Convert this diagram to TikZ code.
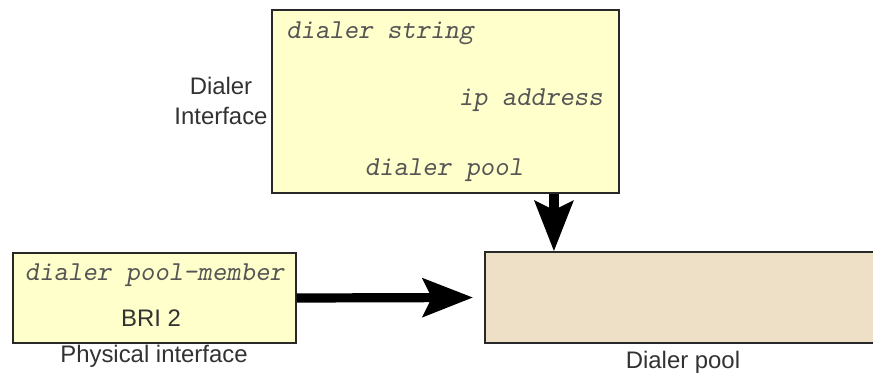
\documentclass[tikz,border=0pt]{standalone}
\usepackage{fontspec}
\setmainfont{Liberation Sans}
\usepackage{tikz}
\usetikzlibrary{arrows.meta,positioning}
\definecolor{cfgyellow}{RGB}{255,255,204}
\definecolor{poolbeige}{RGB}{238,223,199}
\definecolor{edgegray}{RGB}{40,40,40}
\definecolor{txtgray}{RGB}{50,50,50}
\definecolor{cmdgray}{RGB}{85,85,85}

\begin{document}
\begin{tikzpicture}[x=0.025cm,y=-0.025cm,
  cfgbox/.style={draw=edgegray,line width=1pt,fill=cfgyellow,inner sep=0pt},
  poolbox/.style={draw=edgegray,line width=1pt,fill=poolbeige,inner sep=0pt},
  cmd/.style={font=\ttfamily\slshape\fontsize{19.5}{22}\selectfont,text=cmdgray,inner sep=0pt},
  lbl/.style={font=\fontsize{17}{21}\selectfont,text=txtgray,inner sep=0pt,align=center},
  bigarrow/.style={line width=0.23cm,-{Stealth[length=1.25cm,width=0.95cm,inset=0.22cm]}}]
\useasboundingbox (0,0) rectangle (873,377);
% boxes
\node[cfgbox,minimum width=8.675cm,minimum height=4.575cm] (dintf) at (445.5,101.5) {};
\node[cfgbox,minimum width=7.075cm,minimum height=2.25cm] (member) at (154.5,298) {};
\node[poolbox,minimum width=10.125cm,minimum height=2.275cm] (pool) at (687.5,297.5) {};
% commands
\node[cmd,anchor=west] (dstring) at (286,33) {dialer string};
\node[cmd,anchor=east] (ipaddr) at (603,100) {ip address};
\node[cmd] (dpool) at (444,170) {dialer pool};
\node[cmd] (dmember) at (154.5,275) {dialer pool-member};
\node[lbl] (bri) at (151,318) {BRI 2};
% captions
\node[lbl] (intflbl) at (221,101) {Dialer\\Interface};
\node[lbl] (physlbl) at (154,356) {Physical interface};
\node[lbl] (poollbl) at (683,362) {Dialer pool};
% arrows
\draw[bigarrow] ([xshift=2.71cm]dintf.south) -- ([xshift=2.71cm]dintf.south |- pool.north);
\draw[bigarrow] (member.east) -- ([xshift=-0.28cm]pool.west);
\end{tikzpicture}
\end{document}
